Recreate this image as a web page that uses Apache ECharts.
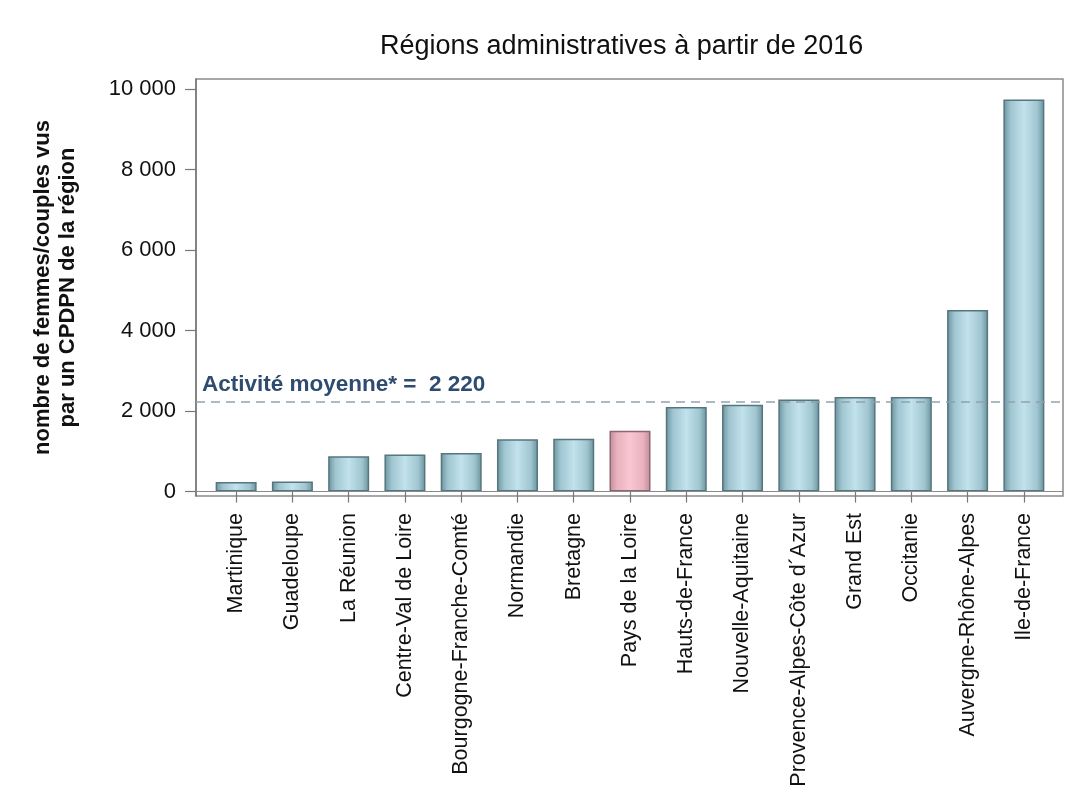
<!DOCTYPE html>
<html>
<head>
<meta charset="utf-8">
<script src="https://cdn.jsdelivr.net/npm/echarts@6/dist/echarts.min.js"></script>
<style>
html,body{margin:0;padding:0;background:#fff;}
#c{width:1072px;height:812px;}
</style>
</head>
<body>
<div id="c"></div>
<script>
const titleText = 'Régions administratives à partir de 2016';
const yAxisName = 'nombre de femmes/couples vus\npar un CPDPN de la région';
const categories = ['Martinique','Guadeloupe','La Réunion','Centre-Val de Loire','Bourgogne-Franche-Comté','Normandie','Bretagne','Pays de la Loire','Hauts-de-France','Nouvelle-Aquitaine','Provence-Alpes-Côte d´Azur','Grand Est','Occitanie','Auvergne-Rhône-Alpes','Ile-de-France'];
const values = [240, 250, 880, 920, 960, 1300, 1310, 1510, 2100, 2160, 2290, 2350, 2350, 4510, 9740];
const highlighted = ['Pays de la Loire'];
const yTicks = [0, 2000, 4000, 6000, 8000, 10000];
const averageValue = 2220;
const averageLabel = 'Activité moyenne* = ';

const fmt = v => String(v).replace(/\B(?=(\d{3})+(?!\d))/g, ' ');
const FONT = '"Liberation Sans", Arial, sans-serif';
const blueGrad = new echarts.graphic.LinearGradient(0,0,1,0,[
  {offset:0,color:'#6a939d'},{offset:0.18,color:'#a0c6d1'},{offset:0.5,color:'#c2e2ec'},{offset:0.82,color:'#a0c6d1'},{offset:1,color:'#6a939d'}]);
const pinkGrad = new echarts.graphic.LinearGradient(0,0,1,0,[
  {offset:0,color:'#c08a96'},{offset:0.18,color:'#e8b2be'},{offset:0.5,color:'#f9c6d1'},{offset:0.82,color:'#e8b2be'},{offset:1,color:'#c08a96'}]);

const chart = echarts.init(document.getElementById('c'), null, {renderer:'canvas'});
const YMIN = -110, YMAX = 10250;
chart.setOption({
  backgroundColor:'#fff',
  animation:false,
  title:{text:titleText,left:375,top:28,textStyle:{fontFamily:FONT,fontSize:27,fontWeight:'normal',color:'#111'}},
  grid:[
    {left:196,right:9,top:79,bottom:316,show:true,borderColor:'#8a8a8a',borderWidth:1.5,backgroundColor:'transparent'},
    {left:208,right:20,top:79,bottom:316}
  ],
  xAxis:[
    {gridIndex:0,type:'value',min:0,max:1,show:false},
    {gridIndex:1,type:'category',data:categories,
      axisLine:{show:false},
      axisTick:{show:true,alignWithLabel:true,length:11,lineStyle:{color:'#777',width:1.2}},
      axisLabel:{rotate:90,margin:17,fontFamily:FONT,fontSize:21.5,color:'#111'}}
  ],
  yAxis:[
    {gridIndex:0,type:'value',min:YMIN,max:YMAX,show:false},
    {gridIndex:1,type:'value',min:YMIN,max:YMAX,offset:12,
      name:yAxisName,nameLocation:'middle',nameGap:116,nameRotate:90,
      nameTextStyle:{fontFamily:FONT,fontSize:22,fontWeight:'bold',color:'#111',lineHeight:25},
      axisLine:{show:true,lineStyle:{color:'#777',width:1.5}},
      axisTick:{show:true,length:11,customValues:yTicks,lineStyle:{color:'#777',width:1.2}},
      axisLabel:{customValues:yTicks,margin:20,fontFamily:FONT,fontSize:22,color:'#111',formatter:v=>fmt(v)},
      splitLine:{show:false}}
  ],
  series:[
    {type:'line',xAxisIndex:0,yAxisIndex:0,data:[],silent:true,
      markLine:{symbol:'none',silent:true,data:[
        {yAxis:averageValue,lineStyle:{type:[9,6],color:'#8fa2ae',width:1.5},
          label:{show:true,position:'insideStartTop',distance:[6,6],formatter:averageLabel+' '+fmt(averageValue),
            fontFamily:FONT,fontSize:22.5,fontWeight:'bold',color:'#2e4b70'}},
        {yAxis:0,lineStyle:{type:'solid',color:'#8a8a8a',width:1.2},label:{show:false}}
      ]}},
    {type:'bar',xAxisIndex:1,yAxisIndex:1,barWidth:41,
      data:values.map((v,i)=>({value:v,itemStyle: highlighted.includes(categories[i]) ?
        {color:pinkGrad,borderColor:'#8e6672',borderWidth:1.5} :
        {color:blueGrad,borderColor:'#56767e',borderWidth:1.5}}))}
  ]
});
</script>
</body>
</html>
